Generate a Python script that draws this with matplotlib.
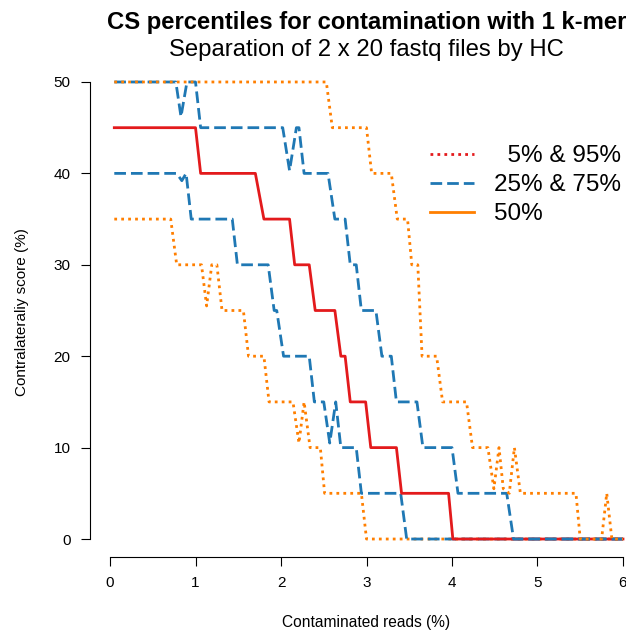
import matplotlib
matplotlib.use("Agg")
import matplotlib.pyplot as plt
from matplotlib.lines import Line2D

plt.rcParams['font.family'] = ['Liberation Sans', 'DejaVu Sans']

# percentile curves (corner points of the stepped lines)
x_p05 = [0.05, 0.71, 0.78, 1.07, 1.13, 1.19, 1.25, 1.31, 1.56, 1.62, 1.80, 1.86,
         2.14, 2.21, 2.27, 2.34, 2.46, 2.51, 2.94, 3.00, 6.00]
y_p05 = [35, 35, 30, 30, 25.5, 30, 30, 25, 25, 20, 20, 15,
         15, 10.5, 15, 10, 10, 5, 5, 0, 0]

x_p25 = [0.05, 0.78, 0.84, 0.89, 0.95, 1.43, 1.49, 1.85, 1.92, 1.95, 2.03, 2.33,
         2.39, 2.50, 2.57, 2.64, 2.70, 2.88, 2.94, 3.40, 3.47, 6.00]
y_p25 = [40, 40, 39.2, 40, 35, 35, 30, 30, 25, 25, 20, 20,
         15, 15, 10.5, 15, 10, 10, 5, 5, 0, 0]

x_p50 = [0.05, 1.00, 1.06, 1.70, 1.80, 2.10, 2.16, 2.33, 2.40, 2.63, 2.70, 2.75,
         2.81, 2.99, 3.05, 3.35, 3.41, 3.96, 4.01, 6.00]
y_p50 = [45, 45, 40, 40, 35, 35, 30, 30, 25, 25, 20, 20,
         15, 15, 10, 10, 5, 5, 0, 0]

x_p75 = [0.05, 0.77, 0.83, 0.90, 1.00, 1.06, 2.02, 2.10, 2.18, 2.21, 2.27, 2.55,
         2.63, 2.75, 2.81, 2.88, 2.94, 3.11, 3.18, 3.29, 3.35, 3.59, 3.66, 4.00,
         4.07, 4.64, 4.72, 6.00]
y_p75 = [50, 50, 46.2, 50, 50, 45, 45, 40.3, 45, 45, 40, 40,
         35, 35, 30, 30, 25, 25, 20, 20, 15, 15, 10, 10,
         5, 5, 0, 0]

x_p95 = [0.05, 2.53, 2.60, 3.00, 3.06, 3.29, 3.36, 3.48, 3.53, 3.60, 3.65, 3.82,
         3.89, 4.17, 4.24, 4.42, 4.49, 4.55, 4.60, 4.67, 4.73, 4.80, 5.45, 5.50,
         5.75, 5.81, 5.87, 6.00]
y_p95 = [50, 50, 45, 45, 40, 40, 35, 35, 30, 30, 20, 20,
         15, 15, 10, 10, 5.5, 10, 5.5, 5, 10, 5, 5, 0,
         0, 5, 0, 0]

x_ticks = [0, 1, 2, 3, 4, 5, 6]
y_ticks = [0, 10, 20, 30, 40, 50]
legend_labels = ['  5% & 95%', '25% & 75%', '50%']

RED = '#E31A1C'
BLUE = '#1F78B4'
ORANGE = '#FF7F00'
LW = 2.0
DOT = (1, 1.5)
DASH = (4.2, 1.8)

W, H = 626, 631
fig = plt.figure(figsize=(W / 100, H / 100), dpi=100)
ax = fig.add_axes([89.5 / W, (H - 557.3) / H, 554 / W, 493.6 / H])

ax.plot(x_p05, y_p05, color=ORANGE, lw=LW, dashes=DOT)
ax.plot(x_p25, y_p25, color=BLUE, lw=LW, dashes=DASH)
ax.plot(x_p50, y_p50, color=RED, lw=LW)
ax.plot(x_p75, y_p75, color=BLUE, lw=LW, dashes=DASH)
ax.plot(x_p95, y_p95, color=ORANGE, lw=LW, dashes=DOT)

ax.set_xlim(-0.24, 6.24)
ax.set_ylim(-2, 52)
for s in ['top', 'right']:
    ax.spines[s].set_visible(False)
ax.spines['left'].set_bounds(0, 50)
ax.spines['bottom'].set_bounds(0, 6)
ax.spines['left'].set_linewidth(0.8)
ax.spines['bottom'].set_linewidth(0.8)
ax.set_xticks(x_ticks)
ax.set_yticks(y_ticks)
ax.tick_params(length=6.5, width=0.8, labelsize=11, pad=7)

handles = [Line2D([], [], color=RED, lw=LW, dashes=DOT),
           Line2D([], [], color=BLUE, lw=LW, dashes=DASH),
           Line2D([], [], color=ORANGE, lw=LW)]
ax.legend(handles, legend_labels, loc='upper left',
          bbox_to_anchor=(430 / W, 1 - 145 / H), bbox_transform=fig.transFigure,
          frameon=False, fontsize=17.5, handlelength=1.8, handletextpad=0.85,
          labelspacing=0.29, borderpad=0, borderaxespad=0)

fig.text(366.5 / W, 1 - 22 / H, 'CS percentiles for contamination with 1 k-mer',
         ha='center', va='center', fontsize=17.2, fontweight='bold')
fig.text(366.5 / W, 1 - 50 / H, 'Separation of 2 x 20 fastq files by HC',
         ha='center', va='center', fontsize=17.2)
fig.text(22 / W, 1 - 312 / H, 'Contralateraliy score (%)', rotation=90,
         ha='center', va='center', fontsize=11)
fig.text(366.5 / W, 1 - 622 / H, 'Contaminated reads (%)',
         ha='center', va='center', fontsize=11.2)

fig.savefig('out.png', dpi=100)
